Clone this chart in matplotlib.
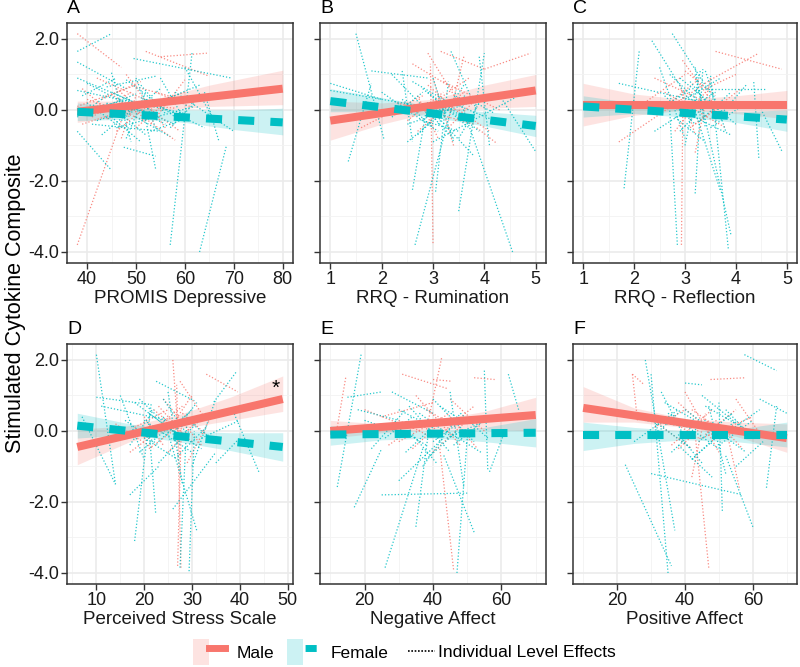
import matplotlib
matplotlib.use("Agg")
import matplotlib.pyplot as plt
from matplotlib.lines import Line2D
from matplotlib.patches import Patch
from matplotlib.legend_handler import HandlerTuple

plt.rcParams['font.family'] = ['Liberation Sans', 'DejaVu Sans']

MALE = '#F8766D'
FEMALE = '#00BFC4'

# ---- data ----
letters = ['A', 'B', 'C', 'D', 'E', 'F']
xlabels = ['PROMIS Depressive', 'RRQ - Rumination', 'RRQ - Reflection',
           'Perceived Stress Scale', 'Negative Affect', 'Positive Affect']
xranges = [(38, 80), (1, 5), (1, 5), (6, 49), (10, 70), (10, 70)]
xticks = [[40, 50, 60, 70, 80], [1, 2, 3, 4, 5], [1, 2, 3, 4, 5],
          [10, 20, 30, 40, 50], [20, 40, 60], [20, 40, 60]]
xminor = [[45, 55, 65, 75], [1.5, 2.5, 3.5, 4.5], [1.5, 2.5, 3.5, 4.5],
          [5, 15, 25, 35, 45], [10, 30, 50, 70], [10, 30, 50, 70]]
yticks = [-4.0, -2.0, 0.0, 2.0]
yminor = [-3.0, -1.0, 1.0]

# fitted lines: (x0, y0, x1, y1)
male_fit = [(38, -0.05, 80, 0.6), (1, -0.3, 5, 0.55), (1, 0.15, 5, 0.15),
            (6, -0.45, 49, 0.9), (10, 0.0, 70, 0.45), (10, 0.65, 70, -0.2)]
female_fit = [(38, -0.05, 80, -0.35), (1, 0.25, 5, -0.45), (1, 0.1, 5, -0.27),
              (6, 0.15, 49, -0.45), (10, -0.1, 70, -0.05), (10, -0.1, 70, -0.1)]

# confidence ribbons: (x, lower, upper)
male_band = [
    [(38, -0.35, 0.25), (48, -0.15, 0.25), (55, 0.0, 0.35), (65, 0.1, 0.7), (80, 0.15, 1.12)],
    [(1, -0.85, 0.25), (2, -0.4, 0.2), (3, -0.05, 0.3), (4, 0.05, 0.7), (5, 0.1, 1.0)],
    [(1, -0.45, 0.75), (2, -0.15, 0.45), (3, 0.0, 0.3), (4, -0.1, 0.4), (5, -0.25, 0.55)],
    [(6, -0.95, 0.05), (17, -0.3, 0.15), (27, 0.05, 0.45), (38, 0.3, 0.95), (49, 0.55, 1.55)],
    [(10, -0.2, 0.3), (25, -0.05, 0.2), (40, 0.05, 0.3), (55, 0.05, 0.55), (70, 0.0, 0.95)],
    [(10, 0.25, 1.25), (25, 0.25, 0.65), (40, 0.1, 0.35), (55, -0.15, 0.25), (70, -0.6, 0.2)],
]
female_band = [
    [(38, -0.3, 0.2), (50, -0.25, 0.05), (60, -0.35, 0.0), (70, -0.55, 0.0), (80, -0.7, 0.05)],
    [(1, -0.05, 0.6), (2, -0.05, 0.35), (3, -0.2, 0.1), (4, -0.45, -0.05), (5, -0.75, -0.15)],
    [(1, -0.2, 0.4), (2, -0.1, 0.2), (3, -0.2, 0.0), (4, -0.35, -0.05), (5, -0.6, 0.0)],
    [(6, -0.2, 0.5), (17, -0.1, 0.2), (27, -0.3, 0.0), (38, -0.55, -0.05), (49, -0.85, -0.05)],
    [(10, -0.4, 0.15), (25, -0.25, 0.05), (40, -0.2, 0.0), (55, -0.3, 0.1), (70, -0.45, 0.35)],
    [(10, -0.55, 0.25), (25, -0.35, 0.1), (40, -0.25, 0.0), (55, -0.3, 0.05), (70, -0.45, 0.25)],
]

# individual level effects: (x0, y0, x1, y1)
A_male_ind = [(38, 2.15, 47, 1.2), (38, -3.8, 47, -0.3), (52, 1.65, 65, 0.95), (55, 1.5, 64.5, 1.6),
              (42, 0.9, 55, 0.1), (45, 0.45, 58, -0.85), (40, 0.3, 52, -0.3), (48, 1.0, 56, -0.5),
              (44, -0.25, 60, 0.5), (50, 0.65, 62, 0.2), (38, 0.1, 50, 0.7), (46, -0.6, 54, 0.3),
              (53, -0.4, 60, 0.85), (47, 0.2, 58, 0.05), (39, -0.4, 48, 0.0),
              (41, -0.2, 49, 0.5), (46, 0.6, 52, -0.1), (50, -0.5, 56, 0.2), (43, 0.3, 51, 0.8),
              (52, 0.1, 59, -0.6), (47, -0.8, 50, 0.4), (54, 0.5, 61, 0.1), (39, 0.6, 45, -0.1)]
A_female_ind = [(38, 1.65, 45, 2.15), (38, 1.35, 48, 0.6), (38, 0.9, 50, 0.2), (38, -0.6, 45, -1.7),
                (47.5, -1.05, 54, -1.3), (54, -1.65, 51, 0.4), (57, -3.8, 61.5, 1.65), (63, -4.0, 68.5, -1.0),
                (49.5, 1.45, 69.5, 0.9), (60, 1.2, 66, -0.3), (64, 0.5, 67, -0.9), (38, 0.55, 60, -0.1),
                (40, 0.75, 56, -0.4), (42, -0.3, 58, 0.4), (44, 0.2, 52, -0.7), (46, -0.5, 62, 0.1),
                (48, 0.85, 58, -0.2), (50, -0.2, 57, -0.75), (52, 0.3, 64, -0.5), (40, -0.1, 50, 0.45),
                (55, 0.9, 60, -0.3), (58, 0.5, 70, -0.6), (44, 0.65, 54, 0.95), (41, -0.4, 55, -0.6),
                (45, 1.05, 49, -0.9),
                (40, 0.2, 47, -0.5), (43, -0.7, 50, 0.1), (45, 0.5, 53, 0.0), (47, -0.3, 55, 0.6),
                (49, 0.1, 58, -0.4), (51, 0.7, 56, -0.1), (53, -0.6, 61, -0.2), (39, 0.4, 46, 0.9),
                (48, -0.8, 52, 0.5), (56, 0.3, 63, 0.7), (42, 0.1, 49, 0.3), (50, 0.9, 54, -0.5),
                (57, -0.5, 62, 0.2), (45, -0.2, 51, -0.9), (38, -0.2, 44, 0.4)]
B_male_ind = [(3.0, -3.75, 2.95, 1.3), (2.9, 1.6, 3.5, 0.2), (3.15, 1.65, 4.0, 1.15), (4.0, 1.15, 4.9, 1.6),
              (3.6, 1.5, 3.3, -0.3), (2.6, 1.3, 3.4, 0.6), (3.85, -0.5, 4.25, -0.95), (2.3, 0.2, 3.8, -0.4),
              (1.6, -0.5, 2.8, 0.4), (3.2, 0.8, 4.3, 0.0), (2.7, -0.6, 3.6, 0.5), (3.4, -1.0, 3.0, 0.9),
              (2.5, -0.3, 3.2, 0.5), (2.9, 0.7, 3.6, -0.2), (3.3, -0.5, 3.9, 0.4), (3.0, 0.2, 3.7, 0.9),
              (2.7, 0.4, 3.1, -0.8), (3.5, 0.0, 4.1, -0.6)]
B_female_ind = [(1.5, 2.15, 2.05, -0.85), (1.35, -1.45, 1.8, 0.75), (1.0, 0.75, 2.0, 0.3), (1.0, 0.55, 3.2, 0.0),
                (2.65, -3.8, 3.45, 0.55), (4.55, -4.0, 3.5, 0.4), (3.5, -2.85, 4.0, 1.6), (2.6, -2.25, 2.9, 0.25),
                (3.35, 1.65, 3.85, 0.0), (4.99, -1.15, 4.3, 0.4), (2.2, 1.0, 3.4, -0.8), (2.8, 0.6, 3.7, -0.5),
                (3.05, -2.3, 3.3, 0.8), (2.5, -0.4, 3.9, 0.3), (2.0, 0.5, 3.1, -0.6), (3.2, 0.3, 4.2, -0.3),
                (3.9, 1.5, 4.1, -1.0), (2.4, 1.1, 2.6, -0.9), (3.0, -0.9, 4.6, 0.35), (1.8, 1.1, 2.9, 0.9),
                (2.9, 0.1, 3.8, -1.3),
                (2.4, 0.3, 3.0, -0.5), (2.7, -0.7, 3.3, 0.2), (2.9, 0.5, 3.5, -0.2), (3.1, -0.4, 3.6, 0.7),
                (3.3, 0.1, 3.9, -0.6), (2.6, 0.8, 3.2, 0.3), (3.5, -0.8, 3.9, 0.2), (2.2, -0.2, 2.8, 0.5),
                (3.0, 0.9, 3.4, -0.9), (2.8, -0.3, 3.5, -0.6), (3.6, 0.4, 4.2, -0.1), (2.5, -0.9, 3.1, -0.2)]
C_male_ind = [(2.93, -3.8, 2.96, 0.45), (1.7, -0.9, 3.5, 0.85), (3.6, 1.65, 4.9, 1.15), (3.5, 0.85, 4.45, 1.6),
              (2.95, 1.4, 3.6, 0.1), (2.6, 0.5, 3.8, -0.5), (3.2, -1.2, 3.5, 0.9), (2.4, 0.9, 3.3, 0.3),
              (3.1, -0.5, 4.1, 0.6), (2.2, 0.2, 3.0, 1.0),
              (2.7, 0.2, 3.3, 0.9), (3.0, 1.1, 3.6, 0.4), (3.2, -0.4, 3.8, 0.2), (2.8, -0.6, 3.4, 0.5),
              (3.4, 0.6, 4.0, 1.0), (2.9, 0.7, 3.2, -0.7)]
C_female_ind = [(2.75, 2.15, 3.8, -0.2), (2.35, 1.95, 3.2, 0.0), (2.1, 1.65, 1.8, -2.25), (2.85, -3.8, 2.7, 0.0),
                (3.85, -3.9, 3.5, 1.0), (3.9, -3.5, 3.2, 1.0), (3.2, -2.35, 3.35, 1.15), (4.45, -1.35, 4.35, 0.8),
                (4.9, -1.15, 4.5, 0.0), (1.7, 0.75, 3.4, 0.2), (2.4, -0.6, 3.6, 0.5), (2.9, 0.9, 4.0, -0.4),
                (3.0, -1.0, 3.3, 1.1), (3.4, 0.6, 4.6, 0.6), (2.6, 0.2, 3.9, -0.7), (3.1, 0.4, 3.7, -2.3),
                (2.5, 1.2, 3.0, -0.8), (3.6, -0.3, 4.2, 0.7),
                (2.6, 0.4, 3.2, -0.4), (2.9, -0.6, 3.5, 0.3), (3.1, 0.8, 3.6, -0.1), (3.3, -0.3, 3.9, 0.5),
                (2.7, 1.0, 3.3, 0.2), (3.4, 1.1, 3.8, -0.6), (2.8, -0.2, 3.4, -0.9), (3.0, 0.3, 3.7, 0.9),
                (3.5, -0.5, 4.1, 0.1), (2.5, 0.0, 3.1, 0.6), (3.2, 1.2, 3.4, -0.5)]
D_male_ind = [(27, -3.8, 27.8, 0.3), (27.7, -3.85, 26.8, 1.3), (26, 2.0, 27.5, -0.8), (33, 1.6, 39.6, 1.1),
              (27.5, 1.4, 33, 0.3), (22, 0.6, 30, -0.3), (17, -0.6, 26, 0.3), (24, 0.9, 32, -0.4),
              (20, -0.2, 28, 0.7), (29, -0.9, 34, 0.4), (14, 0.2, 22, -0.5),
              (18, 0.1, 25, 0.6), (21, -0.5, 27, 0.1), (23, 0.7, 29, -0.2), (25, -0.6, 31, 0.3),
              (28, 0.5, 33, -0.1), (20, 0.4, 24, -0.4), (26, 0.2, 30, 1.0)]
D_female_ind = [(10, 2.15, 14, -1.5), (7, 0.4, 14, -1.5), (18, -3.1, 21.5, 0.8), (29.4, -3.95, 30.5, 0.0),
                (27.5, -3.85, 29, 0.5), (17, -1.8, 23, -1.0), (22.4, -2.3, 21, 0.1), (39.2, 1.65, 34.5, 0.8),
                (44, -1.15, 38.8, 0.5), (10, 0.95, 21, 0.75), (22.5, 1.4, 30.5, 0.85), (11, 0.7, 25, 0.3),
                (15, 1.0, 20, -0.8), (20, 0.3, 30, -0.6), (23, -0.9, 33, 0.5), (25, 1.1, 28, -1.5),
                (30, -1.0, 35, 0.9), (32, -0.2, 40, 0.3), (19, 0.9, 26, 0.0), (26, -2.2, 35, -0.6),
                (35, -0.9, 40, -0.2), (24, 0.4, 31, -2.8),
                (16, 0.3, 23, -0.4), (19, -0.6, 26, 0.2), (21, 0.5, 28, -0.2), (23, -0.3, 30, 0.6),
                (25, 0.1, 32, -0.5), (18, 0.8, 24, 0.2), (27, -0.7, 33, 0.1), (20, -0.2, 27, -0.8),
                (24, 0.9, 29, -0.1), (28, 0.4, 35, -0.3), (17, -0.4, 22, 0.6), (26, -0.1, 31, 0.8)]
E_male_ind = [(14.5, 1.5, 11.5, -0.2), (46, -3.9, 42, -0.5), (42.5, 2.05, 38, 0.0), (40, 1.45, 45.5, 1.4),
              (31, 1.6, 44, 1.2), (52, 1.5, 58, 1.45), (25, 0.4, 40, 0.8), (30, -0.3, 45, 0.5),
              (35, 1.0, 48, -0.4), (20, 0.6, 33, 0.1), (40, -0.6, 50, 0.3), (45, 0.9, 55, 0.0),
              (30, 0.3, 40, -0.2), (34, -0.5, 43, 0.3), (38, 0.6, 47, 0.1), (42, -0.1, 52, 0.7),
              (27, -0.4, 36, 0.2), (45, 0.4, 53, -0.5)]
E_female_ind = [(19, 2.15, 12, -1.6), (17, -2.15, 25, -0.5), (26, -3.85, 37, -0.5), (47, -4.0, 50, -0.2),
                (52, -2.85, 43, -0.65), (25, -1.8, 50, -1.75), (55, 1.7, 56, -1.1), (62, 1.6, 65, 0.6),
                (56.5, -1.15, 61, 0.0), (15, 0.95, 25, 1.1), (28, 1.1, 40, 0.5), (30, -1.4, 43, -0.2),
                (33, 0.7, 45, -0.6), (20, 0.3, 35, -0.2), (37, -1.0, 48, 0.5), (40, 0.9, 52, -0.3),
                (22, -0.5, 32, 0.6), (44, -0.2, 58, 0.4), (35, -2.7, 39, 0.2), (18, 0.6, 30, 0.3),
                (45, 1.1, 49, -1.6),
                (28, 0.2, 38, -0.4), (32, -0.6, 42, 0.3), (36, 0.5, 46, -0.2), (40, -0.3, 50, 0.4),
                (44, 0.0, 54, -0.6), (30, 0.6, 40, 0.1), (38, -0.8, 47, 0.0), (42, 0.7, 50, 0.2),
                (26, -0.2, 34, 0.4), (46, -0.4, 55, 0.3), (34, -0.1, 41, -0.9), (48, 0.5, 56, -0.2)]
F_male_ind = [(47, -3.85, 43, -0.1), (24.5, 1.6, 28, 1.3), (24.5, 1.6, 26, 0.3), (56, -1.6, 52, 0.1),
              (38, 0.8, 45, 0.2), (47.5, 1.45, 58, 1.5), (36, -0.4, 48, 0.6), (40, 1.1, 50, -0.6),
              (45, -0.2, 60, 0.4), (32, 0.2, 42, -0.5), (55, 0.9, 63, -0.2), (42, -1.3, 46, 0.5),
              (34, 0.4, 44, -0.2), (38, -0.5, 47, 0.3), (42, 0.6, 51, 0.0), (46, -0.1, 55, 0.6),
              (31, 0.1, 40, 0.6), (49, 0.3, 57, -0.5)]
F_female_ind = [(28.3, 2.0, 37, -2.8), (22.4, -0.95, 36, -3.8), (35, -4.0, 30, 1.6), (57.5, 2.15, 67, 1.7),
                (64, -1.6, 67, 0.7), (60, -2.7, 52, -0.7), (51, -2.25, 50, 0.8), (30, -1.2, 57, -1.8),
                (40, 1.35, 45, 1.3), (62, 0.9, 70, 0.5), (25, -0.3, 38, 0.6), (35, 0.5, 50, -0.5),
                (42, -0.8, 55, 0.3), (45, 1.0, 58, 0.0), (50, -0.2, 62, 0.6), (38, -0.4, 48, -1.3),
                (33, 1.1, 40, -0.2), (55, -1.0, 63, -0.3), (47, 0.7, 52, -1.2), (28, 0.3, 42, 0.1),
                (32, 0.2, 42, -0.5), (36, -0.6, 46, 0.3), (40, 0.6, 50, -0.1), (44, -0.3, 54, 0.5),
                (48, 0.1, 58, -0.6), (34, 0.8, 43, 0.3), (42, -0.8, 51, 0.0), (46, 0.7, 55, 0.2),
                (30, -0.2, 38, 0.5), (50, -0.4, 60, 0.3), (38, -0.1, 45, -0.9), (52, 0.6, 60, -0.2)]

male_ind = [A_male_ind, B_male_ind, C_male_ind, D_male_ind, E_male_ind, F_male_ind]
female_ind = [A_female_ind, B_female_ind, C_female_ind, D_female_ind, E_female_ind, F_female_ind]

star_pos = (47.5, 1.2)  # significance marker in panel D

# ---- figure ----
W, H = 800, 667
fig = plt.figure(figsize=(W / 100, H / 100), dpi=100)

col_px = [(67, 293), (320, 546), (573, 797)]
row_px = [(23, 263), (344, 584)]

axes = []
for i in range(6):
    r, c = divmod(i, 3)
    x0, x1 = col_px[c]
    t, b = row_px[r]
    ax = fig.add_axes([x0 / W, 1 - b / H, (x1 - x0) / W, (b - t) / H])
    axes.append(ax)

ind_style = dict(lw=0.9, linestyle=(0, (1, 1.6)), alpha=0.85)

for i, ax in enumerate(axes):
    lo, hi = xranges[i]
    pad = (hi - lo) * 0.05
    ax.set_xlim(lo - pad, hi + pad)
    ax.set_ylim(-4.31, 2.45)

    for seg in male_ind[i]:
        ax.plot([seg[0], seg[2]], [seg[1], seg[3]], color=MALE, **ind_style)
    for seg in female_ind[i]:
        ax.plot([seg[0], seg[2]], [seg[1], seg[3]], color=FEMALE, **ind_style)

    for band, col in ((male_band[i], MALE), (female_band[i], FEMALE)):
        bx = [p[0] for p in band]
        ax.fill_between(bx, [p[1] for p in band], [p[2] for p in band],
                        color=col, alpha=0.2, lw=0)

    mf = male_fit[i]
    ax.plot([mf[0], mf[2]], [mf[1], mf[3]], color=MALE, lw=5.8, solid_capstyle='butt')
    ff = female_fit[i]
    ax.plot([ff[0], ff[2]], [ff[1], ff[3]], color=FEMALE, lw=5.8,
            dashes=(2, 2), dash_capstyle='butt')

    ax.set_xticks(xticks[i])
    ax.set_xticks(xminor[i], minor=True)
    ax.set_yticks(yticks)
    ax.set_yticks(yminor, minor=True)
    if i % 3 == 0:
        ax.set_yticklabels(['%.1f' % v for v in yticks])
    else:
        ax.set_yticklabels([])
    ax.grid(True, which='major', color='#EBEBEB', lw=1.2)
    ax.grid(True, which='minor', color='#F2F2F2', lw=0.6)
    ax.set_axisbelow(True)
    ax.tick_params(which='major', direction='out', length=4, width=1,
                   color='#333333', labelsize=13, labelcolor='#1a1a1a', pad=2)
    ax.tick_params(which='minor', length=0)
    for s in ax.spines.values():
        s.set_color('#333333')
        s.set_linewidth(1.1)
    ax.set_xlabel(xlabels[i], fontsize=13.5, color='#1a1a1a', labelpad=1)
    ax.annotate(letters[i], xy=(0, 1), xycoords='axes fraction', xytext=(0, 4),
                textcoords='offset points', ha='left', va='bottom', fontsize=14)

axes[3].text(star_pos[0], star_pos[1], '*', fontsize=15, ha='center', va='center')

fig.text(0.02, (1 - (23 + 584) / 2 / H), 'Stimulated Cytokine Composite',
         rotation=90, ha='center', va='center', fontsize=15.5)

leg_y = 1 - 652 / H
h_male = (Patch(facecolor=MALE, alpha=0.2, lw=0), Line2D([], [], color=MALE, lw=5))
h_female = (Patch(facecolor=FEMALE, alpha=0.2, lw=0),
            Line2D([], [], color=FEMALE, lw=5, linestyle=(-0.3, (1.6, 0.85)),
                   dash_capstyle='butt'))
fig.legend([h_male, h_female], ['Male', 'Female'],
           loc='center left', bbox_to_anchor=(193 / W, leg_y), ncol=2, frameon=False,
           handler_map={tuple: HandlerTuple(ndivide=None, pad=0)},
           fontsize=12.5, handlelength=1.84, handleheight=1.9, handletextpad=0.7,
           columnspacing=0.7, borderpad=0, borderaxespad=0)
h_ind = Line2D([], [], color='black', lw=1.2, linestyle=(0, (1, 1)))
fig.legend([h_ind], ['Individual Level Effects'], loc='center left',
           bbox_to_anchor=(408 / W, leg_y), frameon=False, fontsize=12.5,
           handlelength=1.55, handletextpad=0.15, borderpad=0, borderaxespad=0)

fig.savefig('out.png', dpi=100)
